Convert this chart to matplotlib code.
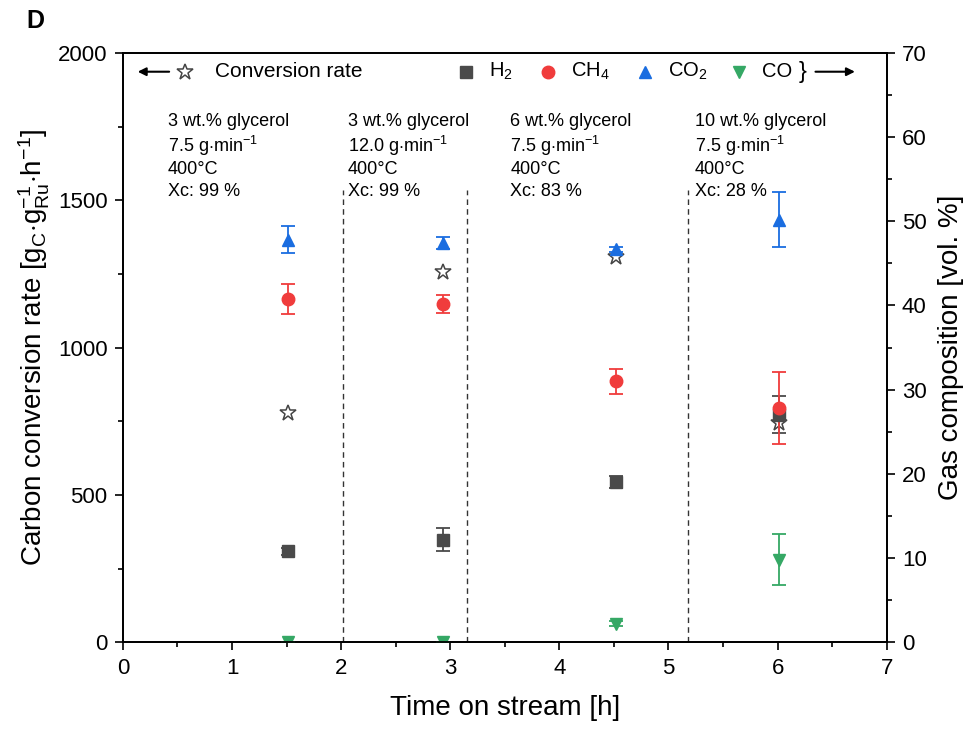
"""
Carbon conversion rate and gas composition vs time on stream
"""

import matplotlib
matplotlib.use('Agg')
import matplotlib.pyplot as plt
import numpy as np

plt.rcParams['font.family'] = ['Liberation Sans', 'DejaVu Sans']
plt.rcParams['mathtext.fontset'] = 'custom'
plt.rcParams['mathtext.rm'] = 'Liberation Sans'
plt.rcParams['mathtext.it'] = 'Liberation Sans'

# Time on stream [h]
time = [1.51, 2.93, 4.52, 6.01]

# Carbon conversion rate (left axis)
conv_rate = [778, 1256, 1307, 745]

# Gas composition [vol. %] (right axis) with errors
h2 = [10.8, 12.2, 19.0, 27.0]
h2_err = [0.4, 1.4, 0.7, 2.2]
ch4 = [40.8, 40.2, 31.0, 27.8]
ch4_err = [1.8, 1.1, 1.5, 4.3]
co2 = [47.8, 47.4, 46.7, 50.2]
co2_err = [1.6, 0.7, 0.3, 3.3]
co = [0.0, 0.0, 2.2, 9.8]
co_err = [0.0, 0.0, 0.3, 3.0]

# Condition boundaries and annotations
boundaries = [2.02, 3.15, 5.18]
label_x = [0.41, 2.06, 3.55, 5.24]
conditions = [
    ['3 wt.% glycerol', '7.5 g$\\cdot$min$^{-1}$', '400°C', 'Xc: 99 %'],
    ['3 wt.% glycerol', '12.0 g$\\cdot$min$^{-1}$', '400°C', 'Xc: 99 %'],
    ['6 wt.% glycerol', '7.5 g$\\cdot$min$^{-1}$', '400°C', 'Xc: 83 %'],
    ['10 wt.% glycerol', '7.5 g$\\cdot$min$^{-1}$', '400°C', 'Xc: 28 %'],
]

c_h2 = '#4a4a4a'
c_ch4 = '#f03c3c'
c_co2 = '#1a6de0'
c_co = '#35a865'

fig = plt.figure(figsize=(9.68, 7.34), dpi=100)
ax = fig.add_axes([0.127, 0.125, 0.789, 0.803])
ax2 = ax.twinx()

# Dashed separators
for b in boundaries:
    ax.vlines(b, 0, 1535, colors='#333333', linestyles=(0, (4, 3)), lw=1)

# Condition text
line_y = [1766, 1684, 1603, 1528]
for x, lines in zip(label_x, conditions):
    for y, txt in zip(line_y, lines):
        ax.text(x, y, txt, fontsize=13, va='center', ha='left')

# Conversion rate stars
ax.plot(time, conv_rate, ls='none', marker='*', ms=12, mfc='none',
        mec='#444444', mew=1.1, zorder=5)

# Gas composition
kw = dict(ls='none', capsize=5, elinewidth=1.3, capthick=1.3, ms=9)
ax2.errorbar(time, h2, yerr=h2_err, marker='s', color=c_h2, **kw)
ax2.errorbar(time, ch4, yerr=ch4_err, marker='o', color=c_ch4, **kw)
ax2.errorbar(time, co2, yerr=co2_err, marker='^', color=c_co2, **kw)
ax2.errorbar(time, co, yerr=co_err, marker='v', color=c_co, **kw)

ax.set_xlim(0, 7)
ax.set_ylim(0, 2000)
ax2.set_ylim(0, 70)
ax.set_xticks(np.arange(0, 8, 1))
ax.set_xticks(np.arange(0, 7.01, 0.5), minor=True)
ax.set_yticks(np.arange(0, 2001, 500))
ax.set_yticks(np.arange(0, 2001, 250), minor=True)
ax2.set_yticks(np.arange(0, 71, 10))
ax2.set_yticks(np.arange(0, 71, 5), minor=True)

for a in (ax, ax2):
    a.tick_params(which='major', direction='out', length=6, width=1.2,
                  labelsize=16, pad=5)
    a.tick_params(which='minor', direction='out', length=3.5, width=1.2)
    for s in a.spines.values():
        s.set_linewidth(1.3)

ax.set_xlabel('Time on stream [h]', fontsize=20, labelpad=12)
ax.set_ylabel('Carbon conversion rate [g$_{\\rm C}$$\\cdot$g$_{\\rm Ru}^{-1}$$\\cdot$h$^{-1}$]',
              fontsize=20, labelpad=4)
ax2.set_ylabel('Gas composition [vol. %]', fontsize=20, labelpad=8)

# Custom legend along the top
ly = 0.968
tr = ax.transAxes


def px(p):
    return (p - 123) / 764


ax.annotate('', xy=(px(135), ly), xytext=(px(172), ly), xycoords=tr,
            arrowprops=dict(arrowstyle='-|>', color='black', lw=1.5,
                            mutation_scale=12))
ax.plot(px(185), ly, transform=tr, marker='*', ms=12, mfc='none',
        mec='#444444', mew=1.1, clip_on=False)
ax.text(px(215), ly, 'Conversion rate', transform=tr, fontsize=15,
        va='center')
items = [('s', c_h2, 'H$_2$', 466), ('o', c_ch4, 'CH$_4$', 548),
         ('^', c_co2, 'CO$_2$', 645), ('v', c_co, 'CO', 739)]
for m, c, lab, p in items:
    ax.plot(px(p), ly, transform=tr, marker=m, color=c, ms=9, clip_on=False)
    ax.text(px(p + 23), ly, lab, transform=tr, fontsize=14.5, va='center')
ax.text(px(799), ly, '}', transform=tr, fontsize=17, va='center')
ax.annotate('', xy=(px(858), ly), xytext=(px(813), ly), xycoords=tr,
            arrowprops=dict(arrowstyle='-|>', color='black', lw=1.5,
                            mutation_scale=12))

fig.text(0.027, 0.972, 'D', fontsize=18, fontweight='bold', va='center')

fig.savefig('out.png', dpi=100)
